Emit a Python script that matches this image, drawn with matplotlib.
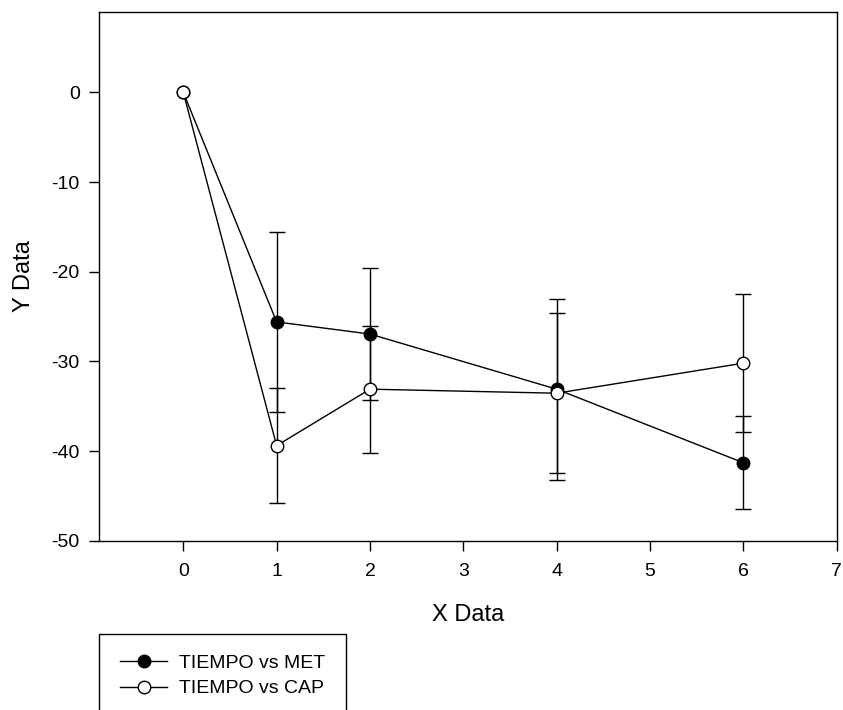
import matplotlib
matplotlib.use('Agg')

import matplotlib.pyplot as plt

plt.rcParams['font.family'] = ['Liberation Sans', 'DejaVu Sans']
plt.rcParams['axes.unicode_minus'] = False

# Data
tiempo = [0, 1, 2, 4, 6]
met = [0, -25.6, -26.95, -33.1, -41.3]
met_err = [0, 10.0, 7.4, 10.1, 5.2]
cap = [0, -39.4, -33.1, -33.55, -30.2]
cap_err = [0, 6.4, 7.1, 8.9, 7.7]

x_ticks = [0, 1, 2, 3, 4, 5, 6, 7]
y_ticks = [-50, -40, -30, -20, -10, 0]

fig = plt.figure(figsize=(8.43, 7.10), dpi=100)
ax = fig.add_axes([99.3 / 843, 1 - 540.7 / 710, (836.6 - 99.3) / 843, (540.7 - 11.7) / 710])

series = [
    (met, met_err, 'black', 'TIEMPO vs MET', 2),
    (cap, cap_err, 'white', 'TIEMPO vs CAP', 3),
]
for vals, errs, face, label, z in series:
    # error bars only where there is a spread (none at t=0)
    xs = [t for t, e in zip(tiempo, errs) if e > 0]
    ys = [v for v, e in zip(vals, errs) if e > 0]
    es = [e for e in errs if e > 0]
    ax.errorbar(xs, ys, yerr=es, fmt='none', ecolor='black', elinewidth=1,
                capsize=6, capthick=1, zorder=1)
    ax.plot(tiempo, vals, color='black', lw=1, marker='o', markersize=9,
            markerfacecolor=face, markeredgecolor='black', markeredgewidth=1,
            zorder=z, label=label)

ax.set_xlim(-0.9, 7)
ax.set_ylim(-50, 9)
ax.set_xticks(x_ticks)
ax.set_yticks(y_ticks)
ax.tick_params(axis='both', direction='out', length=7, width=1, labelsize=14)
ax.tick_params(axis='x', pad=9)
ax.tick_params(axis='y', pad=7)
for s in ax.spines.values():
    s.set_linewidth(1)

ax.set_xlabel('X Data', fontsize=17, labelpad=17)
ax.set_ylabel('Y Data', fontsize=17, labelpad=12)

leg = fig.legend(loc='upper left', bbox_to_anchor=(99.3 / 843, 1 - 634 / 710),
                 bbox_transform=fig.transFigure, fontsize=14,
                 frameon=True, fancybox=False, edgecolor='black', framealpha=1,
                 borderaxespad=0, borderpad=1.05, handlelength=2.45,
                 handletextpad=0.6, labelspacing=0.4)
leg.get_frame().set_linewidth(1)

plt.savefig('out.png', dpi=100)
